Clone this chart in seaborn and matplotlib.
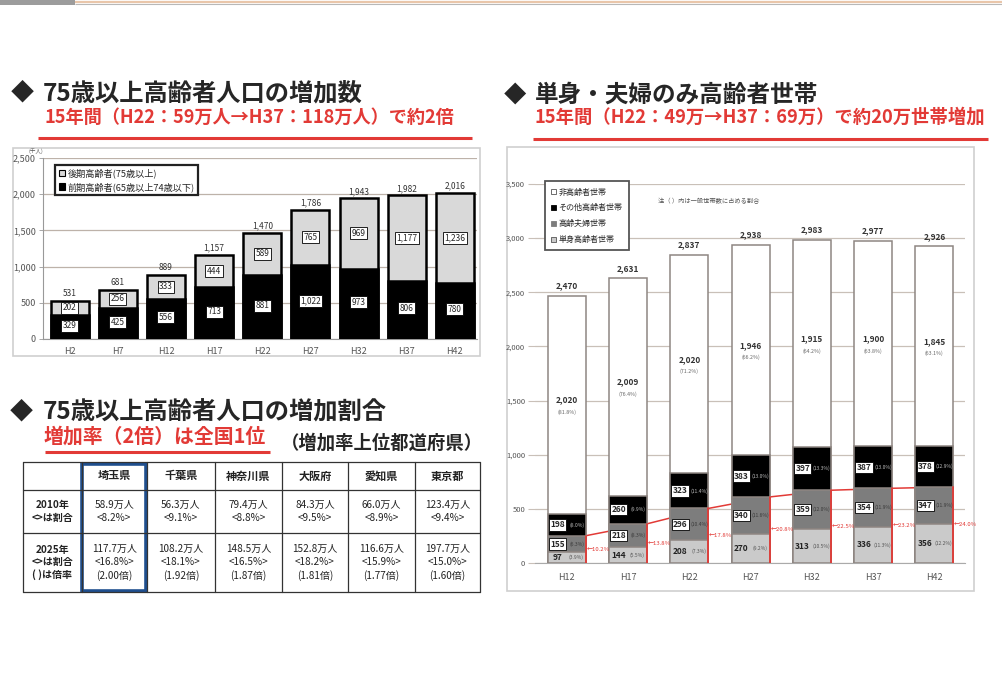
import numpy as np
import pandas as pd
import matplotlib
matplotlib.use("Agg")
import matplotlib.pyplot as plt
from matplotlib.patches import Rectangle, Patch
import seaborn as sns

# ---- 75歳以上高齢者人口の推移（千人） ----
years_pop = ["H2", "H7", "H12", "H17", "H22", "H27", "H32", "H37", "H42"]
early_elderly = [329, 425, 556, 713, 881, 1022, 973, 806, 780]      # 前期高齢者(65-74歳)
late_elderly = [202, 256, 333, 444, 589, 765, 969, 1177, 1236]      # 後期高齢者(75歳以上)
pop_totals = [531, 681, 889, 1157, 1470, 1786, 1943, 1982, 2016]

# ---- 高齢者世帯の推移（千世帯） ----
years_hh = ["H12", "H17", "H22", "H27", "H32", "H37", "H42"]
single_hh = [97, 144, 208, 270, 313, 336, 356]
couple_hh = [155, 218, 296, 340, 359, 354, 347]
other_hh = [198, 260, 323, 383, 397, 387, 378]
non_elderly_hh = [2020, 2009, 2020, 1946, 1915, 1900, 1845]
hh_totals = [2470, 2631, 2837, 2938, 2983, 2977, 2926]
single_pct = [3.9, 5.5, 7.3, 9.2, 10.5, 11.3, 12.2]
couple_pct = [6.3, 8.3, 10.4, 11.6, 12.0, 11.9, 11.9]
other_pct = [8.0, 9.9, 11.4, 13.0, 13.3, 13.0, 12.9]
non_elderly_pct = [81.8, 76.4, 71.2, 66.2, 64.2, 63.8, 63.1]
single_couple_pct = [10.2, 13.8, 17.8, 20.8, 22.5, 23.2, 24.0]

# ---- 増加率上位都道府県 ----
prefs = ["埼玉県", "千葉県", "神奈川県", "大阪府", "愛知県", "東京都"]
pop_2010 = [58.9, 56.3, 79.4, 84.3, 66.0, 123.4]
share_2010 = [8.2, 9.1, 8.8, 9.5, 8.9, 9.4]
pop_2025 = [117.7, 108.2, 148.5, 152.8, 116.6, 197.7]
share_2025 = [16.8, 18.1, 16.5, 18.2, 15.9, 15.0]
growth = [2.00, 1.92, 1.87, 1.81, 1.77, 1.60]

sns.set_style("white")
plt.rcParams["font.family"] = ["Noto Sans CJK JP", "DejaVu Sans"]

W, H = 1002, 675
RED = "#e23a36"
GRID = "#bdb2a9"
TICK = "#555555"

fig = plt.figure(figsize=(W / 100, H / 100), dpi=100)
fig.patch.set_facecolor("white")


def rect(x0, y0, x1, y1):
    return [x0 / W, 1 - y1 / H, (x1 - x0) / W, (y1 - y0) / H]


# overlay in pixel coordinates for headings, frames and the table
ov = fig.add_axes([0, 0, 1, 1], zorder=0)
ov.set_xlim(0, W)
ov.set_ylim(H, 0)
ov.axis("off")

# top strip
ov.add_patch(Rectangle((0, 0), 75, 4.5, fc="#9c9c9c", ec="none"))
ov.plot([75, W], [1.5, 1.5], color="#e9c6aa", lw=1.6, solid_capstyle="butt")
ov.plot([75, W], [3.6, 3.6], color="#b8b8b8", lw=0.8, solid_capstyle="butt")


def heading(x_mark, x_text, y, text, size):
    ov.text(x_mark, y, "◆", fontsize=size * 0.95, fontweight="bold", va="center", ha="left")
    ov.text(x_text, y, text, fontsize=size, fontweight="bold", va="center", ha="left")


heading(11, 43, 93, "75歳以上高齢者人口の増加数", 17.5)
ov.text(45, 117.5, "15年間（H22：59万人→H37：118万人）で約2倍", fontsize=13.1,
        fontweight="bold", color=RED, va="center", ha="left")
ov.plot([38, 472], [138, 138], color=RED, lw=2.2, solid_capstyle="butt")

heading(504, 535, 95, "単身・夫婦のみ高齢者世帯", 17.0)
ov.text(535, 117, "15年間（H22：49万→H37：69万）で約20万世帯増加", fontsize=13.2,
        fontweight="bold", color=RED, va="center", ha="left")
ov.plot([533, 988], [139, 139], color=RED, lw=2.2, solid_capstyle="butt")

heading(10, 43, 412, "75歳以上高齢者人口の増加割合", 17.5)
ov.text(44, 436.5, "増加率（2倍）は全国1位", fontsize=14.3, fontweight="bold",
        color=RED, va="center", ha="left")
ov.plot([45, 270], [452, 452], color=RED, lw=2.2, solid_capstyle="butt")
ov.text(281, 443, "（増加率上位都道府県）", fontsize=13.2, fontweight="bold",
        va="center", ha="left")

# panel frames
ov.add_patch(Rectangle((13, 148), 467, 208, fc="none", ec="#cfcfcf", lw=1.2))
ov.add_patch(Rectangle((507, 147), 467, 444, fc="none", ec="#cfcfcf", lw=1.2))

# ---- 左上：人口の積み上げ棒グラフ ----
axL = fig.add_axes(rect(42.7, 158, 477, 339), zorder=2)
dfL = pd.DataFrame({"year": years_pop, "early": early_elderly, "late": late_elderly})
dfL["stack"] = dfL["early"] + dfL["late"]
bw_L = 0.79
sns.barplot(data=dfL, x="year", y="stack", color="#d9d9d9", edgecolor="black",
            linewidth=1.8, width=bw_L, saturation=1, errorbar=None, ax=axL, zorder=2)
sns.barplot(data=dfL, x="year", y="early", color="black", edgecolor="black",
            linewidth=1.8, width=bw_L, saturation=1, errorbar=None, ax=axL, zorder=3)
axL.set_xlim(-0.56, 8.46)
axL.set_ylim(0, 2500)
axL.set_yticks(np.arange(0, 2501, 500))
axL.set_yticklabels([f"{v:,}" for v in range(0, 2501, 500)])
axL.yaxis.grid(True, color=GRID, lw=0.9)
axL.set_axisbelow(True)
axL.set_xlabel("")
axL.set_ylabel("")
for s in ["top", "right"]:
    axL.spines[s].set_visible(False)
axL.spines["left"].set_color("#999999")
axL.spines["bottom"].set_color("#999999")
axL.tick_params(axis="y", left=True, length=3, width=0.6, color="#999999",
                labelsize=6.5, labelcolor=TICK, pad=2)
axL.tick_params(axis="x", labelsize=6.5, labelcolor=TICK, pad=2)
axL.text(-0.016, 1.022, "(千人)", transform=axL.transAxes, fontsize=4,
         color=TICK, ha="center", va="bottom")

box = dict(boxstyle="square,pad=0.18", fc="white", ec="black", lw=0.6)
for i, (e, l, t) in enumerate(zip(early_elderly, late_elderly, pop_totals)):
    axL.text(i, e / 2 + 20, f"{e:,}", ha="center", va="center", fontsize=6,
             bbox=box, zorder=5)
    axL.text(i, e + l / 2, f"{l:,}", ha="center", va="center", fontsize=6,
             bbox=box, zorder=5)
    axL.text(i, e + l + 35, f"{t:,}", ha="center", va="bottom", fontsize=6,
             color="#333333", zorder=5)

legL = axL.legend(
    handles=[Patch(fc="#d9d9d9", ec="black", lw=0.8, label="後期高齢者(75歳以上)"),
             Patch(fc="black", ec="black", lw=0.8, label="前期高齢者(65歳以上74歳以下)")],
    loc="upper left", bbox_to_anchor=(0.028, 0.962), fontsize=6.6, frameon=True,
    fancybox=False, edgecolor="#222222", framealpha=1, handlelength=0.7,
    handleheight=0.7, handletextpad=0.3, borderpad=0.4, labelspacing=0.4,
    borderaxespad=0)
legL.get_frame().set_linewidth(1.6)
legL.set_zorder(6)

# ---- 右：世帯の積み上げ棒グラフ ----
axR = fig.add_axes(rect(535, 184, 965, 563), zorder=2)
dfR = pd.DataFrame({"year": years_hh, "single": single_hh, "couple": couple_hh,
                    "other": other_hh, "non": non_elderly_hh})
dfR["c1"] = dfR["single"]
dfR["c2"] = dfR["c1"] + dfR["couple"]
dfR["c3"] = dfR["c2"] + dfR["other"]
dfR["c4"] = dfR["c3"] + dfR["non"]
bw_R = 0.62
for col, colr in [("c4", "white"), ("c3", "black"), ("c2", "#7d7d7d"), ("c1", "#cacaca")]:
    sns.barplot(data=dfR, x="year", y=col, color=colr, edgecolor="#8e8682",
                linewidth=1.1, width=bw_R, saturation=1, errorbar=None, ax=axR, zorder=3)
axR.set_xlim(-0.52, 6.5)
axR.set_ylim(0, 3500)
axR.set_yticks(np.arange(0, 3501, 500))
axR.set_yticklabels([f"{v:,}" for v in range(0, 3501, 500)])
axR.yaxis.grid(True, color="#c9c0b8", lw=0.9)
axR.set_axisbelow(True)
axR.set_xlabel("")
axR.set_ylabel("")
for s in ["top", "right", "left"]:
    axR.spines[s].set_visible(False)
axR.spines["bottom"].set_color("#aaaaaa")
axR.tick_params(axis="y", left=True, length=5, width=0.8, color="#c9c0b8",
                labelsize=5.5, labelcolor=TICK, pad=2)
axR.tick_params(axis="x", labelsize=6.5, labelcolor=TICK, pad=4)

# 単身＋夫婦世帯の割合（赤線）
x_right = np.arange(len(years_hh)) + bw_R / 2
axR.plot(x_right, dfR["c2"], color=RED, lw=1.1, zorder=2.5)
for i, (c2, p) in enumerate(zip(dfR["c2"], single_couple_pct)):
    axR.plot([x_right[i], x_right[i]], [0, c2], color=RED, lw=1.3, zorder=4)
    axR.text(x_right[i] + 0.015, c2 / 2, f"←{p:.1f}%", color=RED, fontsize=4.3,
             ha="left", va="center", zorder=5, clip_on=False)

boxR = dict(boxstyle="square,pad=0.15", fc="white", ec="black", lw=0.6)
for i in range(len(years_hh)):
    s, c, o, n = single_hh[i], couple_hh[i], other_hh[i], non_elderly_hh[i]
    c1, c2, c3 = dfR["c1"][i], dfR["c2"][i], dfR["c3"][i]
    axR.text(i - 0.15, c1 / 2, f"{s}", ha="center", va="center", fontsize=6,
             fontweight="bold", color="#222222", zorder=5)
    axR.text(i + 0.15, c1 / 2, f"({single_pct[i]:.1f}%)", ha="center", va="center",
             fontsize=3.6, color="#555555", zorder=5)
    axR.text(i - 0.15, c1 + c / 2, f"{c}", ha="center", va="center", fontsize=6,
             fontweight="bold", bbox=boxR, zorder=5)
    axR.text(i + 0.16, c1 + c / 2, f"({couple_pct[i]:.1f}%)", ha="center", va="center",
             fontsize=3.6, color="#3a3a3a", zorder=5)
    axR.text(i - 0.15, c2 + o / 2, f"{o}", ha="center", va="center", fontsize=6,
             fontweight="bold", bbox=boxR, zorder=5)
    axR.text(i + 0.16, c2 + o / 2, f"({other_pct[i]:.1f}%)", ha="center", va="center",
             fontsize=3.6, color="#bbbbbb", zorder=5)
    axR.text(i, c3 + n / 2 + 45, f"{n:,}", ha="center", va="center", fontsize=6,
             fontweight="bold", color="#333333", zorder=5)
    axR.text(i, c3 + n / 2 - 70, f"({non_elderly_pct[i]:.1f}%)", ha="center",
             va="center", fontsize=3.8, color="#666666", zorder=5)
    axR.text(i, dfR["c4"][i] + 50, f"{hh_totals[i]:,}", ha="center", va="bottom",
             fontsize=6, fontweight="bold", color="#333333", zorder=5)

legR = axR.legend(
    handles=[Patch(fc="white", ec="#555555", lw=0.6, label="非高齢者世帯"),
             Patch(fc="black", ec="black", lw=0.6, label="その他高齢者世帯"),
             Patch(fc="#7d7d7d", ec="#7d7d7d", lw=0.6, label="高齢夫婦世帯"),
             Patch(fc="#cacaca", ec="#555555", lw=0.6, label="単身高齢者世帯")],
    loc="upper left", bbox_to_anchor=(0.023, 1.008), fontsize=5.8, frameon=True,
    fancybox=False, edgecolor="#555555", framealpha=1, handlelength=0.6,
    handleheight=0.6, handletextpad=0.3, borderpad=0.8, labelspacing=0.85,
    borderaxespad=0)
legR.get_frame().set_linewidth(1.3)
legR.set_zorder(6)
axR.text(0.285, 0.955, "注（ ）内は一般世帯数に占める割合", transform=axR.transAxes,
         fontsize=4.5, color="#555555", ha="left", va="center")

# ---- 左下：都道府県別の表 ----
col_x = [22.7, 81.7, 146.7, 215, 281.7, 348.3, 415, 480]
row_y = [462, 490, 533, 592]
for x in col_x:
    ov.plot([x, x], [row_y[0], row_y[-1]], color="#333333", lw=0.9)
for y in row_y:
    ov.plot([col_x[0], col_x[-1]], [y, y], color="#333333", lw=0.9)

ov.text((col_x[0] + col_x[1]) / 2, (row_y[1] + row_y[2]) / 2, "2010年\n<>は割合",
        ha="center", va="center", fontsize=7.2, fontweight="bold", linespacing=1.3,
        color="#222222")
ov.text((col_x[0] + col_x[1]) / 2, (row_y[2] + row_y[3]) / 2, "2025年\n<>は割合\n( )は倍率",
        ha="center", va="center", fontsize=7.2, fontweight="bold", linespacing=1.3,
        color="#222222")
for j, name in enumerate(prefs):
    cx = (col_x[j + 1] + col_x[j + 2]) / 2
    ov.text(cx, (row_y[0] + row_y[1]) / 2, name, ha="center", va="center",
            fontsize=8, fontweight="bold", color="#222222")
    ov.text(cx, (row_y[1] + row_y[2]) / 2,
            f"{pop_2010[j]:.1f}万人\n<{share_2010[j]:.1f}%>",
            ha="center", va="center", fontsize=7.2, linespacing=1.35, color="#222222")
    ov.text(cx, (row_y[2] + row_y[3]) / 2,
            f"{pop_2025[j]:.1f}万人\n<{share_2025[j]:.1f}%>\n({growth[j]:.2f}倍)",
            ha="center", va="center", fontsize=7.2, linespacing=1.35, color="#222222")

ov.add_patch(Rectangle((82.5, 463.5), 64, 127.5, fc="none", ec="#1f4f8f", lw=2.6))

fig.savefig("out.png", dpi=100, facecolor="white")
